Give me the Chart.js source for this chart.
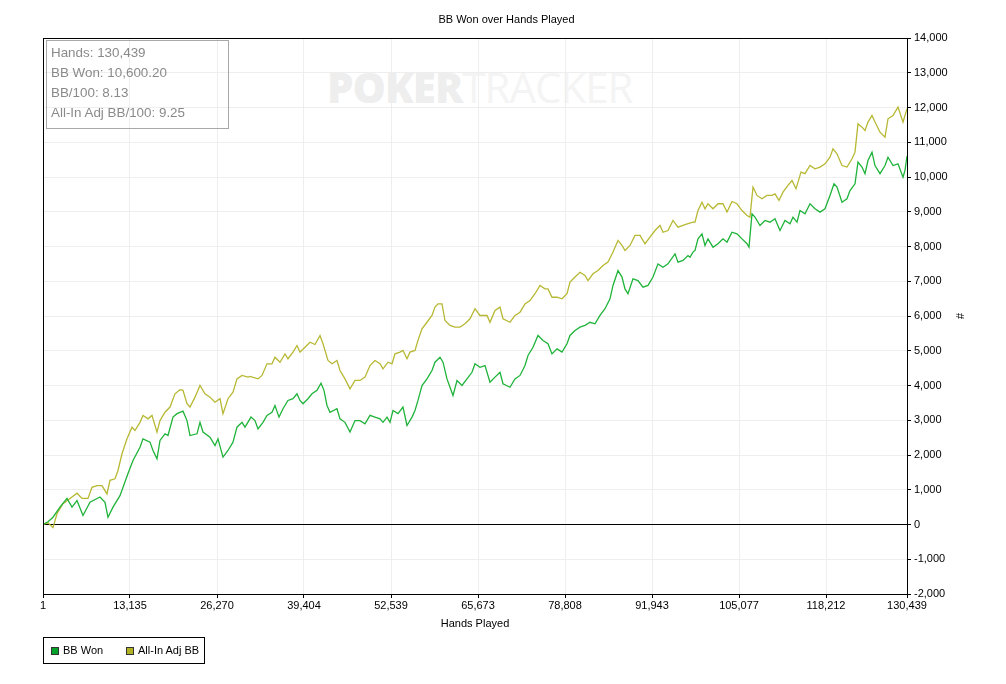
<!DOCTYPE html>
<html>
<head>
<meta charset="utf-8">
<title>BB Won over Hands Played</title>
<script src="https://cdn.jsdelivr.net/npm/chart.js@4.4.1/dist/chart.umd.min.js"></script>
<style>
  html, body { margin: 0; padding: 0; background: #fff; }
  #wrap { position: relative; width: 1006px; height: 684px; overflow: hidden; }
  #chart { position: absolute; left: 0; top: 0; }
  .watermark {
    position: absolute; left: 327px; top: 66px;
    font-family: "Open Sans", sans-serif; font-size: 42px; line-height: 42px;
    white-space: nowrap; letter-spacing: -1px;
  }
  .watermark b { color: #eeeeee; font-weight: 800; }
  .watermark span { color: #f4f4f4; font-weight: 400; }
  .stats {
    position: absolute; left: 46px; top: 40px; width: 177px; height: 84.6px;
    border: 1px solid #a8a8a8; padding: 2.4px 0 0 4px;
    font-family: "Liberation Sans", Arial, sans-serif; font-size: 13.4px; color: #8a8a8a;
    line-height: 19.7px; background: transparent;
  }
  .legend {
    position: absolute; left: 43px; top: 637px; width: 160px; height: 25px;
    border: 1px solid #000;
    font-family: "Liberation Sans", Arial, sans-serif; font-size: 11px; color: #000;
  }
  .legend .sw { position: absolute; top: 9px; width: 6px; height: 6px; border: 1px solid #333; }
  .legend .lb { position: absolute; top: 6px; line-height: 13px; }
</style>
</head>
<body>
<div id="wrap">
  <div class="watermark"><b>POKER</b><span>TRACKER</span></div>
  <canvas id="chart" width="1006" height="684"></canvas>
  <div class="stats">
    <div>Hands: 130,439</div>
    <div>BB Won: 10,600.20</div>
    <div>BB/100: 8.13</div>
    <div>All-In Adj BB/100: 9.25</div>
  </div>
  <div class="legend">
    <div class="sw" style="left:7px; background:#00a22a;"></div>
    <div class="lb" style="left:19px;">BB Won</div>
    <div class="sw" style="left:82px; background:#b1b223;"></div>
    <div class="lb" style="left:94px;">All-In Adj BB</div>
  </div>
</div>
<script>
const FONT = 'Liberation Sans, Arial, sans-serif';

const xTickValues = [1, 13135, 26270, 39404, 52539, 65673, 78808, 91943, 105077, 118212, 130439];

const bbWonHands = [
    1, 755, 1510, 2566, 3623, 4378, 5133, 6039, 7096, 8605, 9360, 9813, 10568, 11625, 12833, 13588,
    14645, 15098, 16154, 16607, 17211, 17664, 18418, 18871, 19626, 20230, 21136, 21740, 22193, 23249,
    23702, 24155, 25212, 25967, 26420, 27175, 27929, 28684, 29288, 30043, 30496, 31402, 32006, 32458,
    33213, 33817, 34572, 35025, 35629, 36233, 36988, 37743, 38346, 38799, 39252, 40007, 40611, 41366,
    41970, 42423, 42876, 43328, 44385, 44838, 45593, 46348, 47103, 47857, 48612, 49367, 50122, 50877,
    51330, 51934, 52387, 52840, 53594, 54349, 54953, 55708, 56161, 56614, 57218, 57972, 58727, 59180,
    59935, 60388, 60992, 61445, 61898, 62502, 63256, 64011, 64766, 65219, 65974, 66729, 67484, 68238,
    68993, 69446, 70503, 71258, 72013, 72768, 73220, 73975, 74730, 75485, 76240, 76844, 77599, 78353,
    79108, 79561, 80316, 81071, 81826, 82580, 83335, 84090, 84845, 85600, 86053, 86808, 87412, 87865,
    88317, 89072, 89827, 90582, 91337, 92092, 92847, 93601, 94356, 95413, 95866, 96621, 97376, 97678,
    98131, 98433, 98886, 99489, 99942, 100395, 101150, 101905, 102660, 103263, 104018, 104773, 105528,
    106283, 106585, 107038, 107491, 108245, 109000, 109755, 110510, 111265, 112020, 112775, 113228,
    113831, 114284, 115039, 115794, 116549, 117304, 118059, 118813, 119417, 119870, 120625, 121380,
    121833, 122588, 123041, 123645, 124099, 124551, 125155, 125608, 126363, 127118, 127571, 128326,
    129081, 129836, 130138, 130439
];
const bbWonValues = [
    0, 80, 210, 500, 750, 500, 690, 260, 640, 790, 640, 210, 500, 830, 1470, 1840,
    2225, 2465, 2370, 2130, 1890, 2420, 2610, 2560, 3090, 3190, 3260, 2990, 2560, 2610,
    2940, 2660, 2510, 2270, 2465, 1940, 2130, 2370, 2800, 2940, 2800, 3090, 2990, 2750,
    2940, 3140, 3230, 3425, 3090, 3330, 3570, 3620, 3760, 3570, 3475, 3620, 3760, 3860,
    4065, 3860, 3425, 3230, 3330, 3040, 2940, 2660, 2990, 2990, 2900, 3140, 3090, 3040,
    2940, 3090, 2940, 3280, 3190, 3380, 2850, 3090, 3280, 3570, 4000, 4190, 4430, 4670,
    4815, 4670, 4190, 3950, 3710, 4145, 4000, 4190, 4380, 4625, 4525, 4575, 4095, 4240,
    4380, 4050, 3950, 4190, 4290, 4575, 4865, 5100, 5440, 5295, 5200, 4910, 5055, 4960,
    5200, 5440, 5585, 5680, 5730, 5820, 5775, 6015, 6210, 6495, 6880, 7310, 7120, 6780,
    6640, 7070, 7020, 6830, 6880, 7120, 7500, 7405, 7500, 7790, 7550, 7600, 7740, 7690,
    7840, 7885, 8220, 8365, 8030, 8220, 7980, 8080, 8220, 8125, 8410, 8365, 8220,
    8080, 7980, 8940, 8845, 8605, 8750, 8700, 8800, 8460, 8750, 8655, 8845,
    8700, 9035, 8940, 9230, 9085, 8990, 9085, 9470, 9805, 9710, 9275, 9375,
    9610, 9805, 10430, 10285, 10095, 10475, 10715, 10330, 10095, 10330, 10570, 10330,
    10380, 9995, 10190, 10600
];

const adjHands = [
    1, 755, 1510, 2114, 3019, 4076, 5133, 5888, 6794, 7398, 8152, 8907, 9662, 10115, 10870, 11323,
    11927, 12682, 13436, 13890, 14645, 15098, 15852, 16456, 17211, 17664, 18418, 19173, 19928, 20683,
    21136, 21740, 22193, 22947, 23702, 24457, 25212, 25967, 26722, 27175, 27929, 28684, 29288, 30043,
    30949, 31251, 32458, 33062, 33817, 34572, 35025, 35780, 36535, 36988, 37743, 38346, 38799, 39554,
    40309, 41064, 41819, 42272, 43026, 43630, 44385, 44838, 45593, 46348, 47103, 47857, 48612, 49367,
    50122, 50877, 51330, 52085, 52689, 53141, 53896, 54349, 54953, 55406, 56161, 56614, 57218, 57972,
    58727, 59180, 59633, 60237, 60690, 61445, 62200, 62954, 63709, 64464, 65219, 65974, 67031, 67484,
    68238, 68993, 69446, 70503, 71258, 72013, 72768, 73522, 74277, 75032, 75787, 76240, 76844, 77599,
    78353, 79108, 79561, 80316, 81071, 81826, 82279, 83033, 83788, 84543, 85298, 86053, 86808, 87412,
    87865, 88619, 89374, 90129, 90884, 91639, 92394, 93148, 93601, 94356, 95111, 95866, 96621, 97376,
    98131, 98433, 98886, 99489, 99942, 100395, 101150, 101905, 102660, 103263, 104018, 104773, 105528,
    106283, 106736, 107189, 107793, 108547, 109302, 110057, 110510, 111114, 111718, 112473, 113077,
    113680, 114435, 115039, 115794, 116549, 117304, 118059, 118813, 119266, 119870, 120625, 121380,
    122135, 122588, 123041, 123645, 124099, 124551, 125155, 125608, 126363, 127118, 127571, 128326,
    129081, 129836, 130439
];
const adjValues = [
    0, 50, -90, 310, 600, 750, 900, 750, 750, 1070, 1120, 1120, 880, 1270, 1315, 1555,
    2035, 2465, 2800, 2705, 2940, 3140, 3040, 3140, 2660, 2990, 3230, 3380, 3760, 3880,
    3860, 3475, 3380, 3665, 4000, 3760, 3665, 3520, 3620, 3190, 3620, 3810, 4190, 4290,
    4240, 4260, 4190, 4290, 4625, 4625, 4815, 4670, 4910, 4770, 4960, 5150, 4960, 5100,
    5245, 5180, 5440, 5200, 4720, 4625, 4720, 4430, 4190, 3905, 4145, 4145, 4240, 4575,
    4720, 4625, 4480, 4670, 4625, 4910, 4960, 5010, 4770, 4960, 5010, 5300, 5630, 5820,
    6015, 6255, 6350, 6350, 5870, 5730, 5680, 5680, 5775, 5920, 6210, 6015, 6015, 5820,
    6160, 6255, 5920, 5820, 6015, 6110, 6350, 6445, 6640, 6880, 6780, 6780, 6540, 6540,
    6495, 6640, 6975, 7120, 7260, 7165, 7020, 7215, 7310, 7455, 7550, 7840, 8175, 8030,
    7885, 8030, 8320, 8320, 8080, 8270, 8460, 8605, 8410, 8460, 8750, 8555, 8605, 8655,
    8700, 8700, 9035, 9275, 9085, 9230, 9085, 9230, 9230, 8990, 9295, 9230, 9035,
    8890, 8845, 9710, 9470, 9375, 9470, 9470, 9515, 9325, 9565, 9760, 9900,
    9660, 10140, 10095, 10330, 10235, 10285, 10380, 10570, 10810, 10670, 10330, 10285,
    10525, 10715, 11530, 11435, 11340, 11580, 11770, 11580, 11290, 11145, 11675, 11770,
    12010, 11580, 11965
];

const toPoints = (xs, ys) => xs.map((x, i) => ({ x: x, y: ys[i] }));
const fmt = (v) => Number(v).toLocaleString('en-US');

// black frame round the plot area, on the same half pixels as the axis borders
const frame = {
    id: 'frame',
    afterDraw(chart) {
        const { ctx, chartArea } = chart;
        const l = Math.round(chartArea.left) + 0.5;
        const t = Math.round(chartArea.top) + 0.5;
        const r = Math.round(chartArea.right) + 0.5;
        const b = Math.round(chartArea.bottom) + 0.5;
        ctx.save();
        ctx.strokeStyle = '#000';
        ctx.lineWidth = 1;
        ctx.strokeRect(l, t, r - l, b - t);
        ctx.restore();
    }
};

Chart.defaults.font.family = FONT;
Chart.defaults.font.size = 11;
Chart.defaults.color = '#000';

new Chart(document.getElementById('chart'), {
    type: 'line',
    data: {
        datasets: [{
            label: 'BB Won',
            data: toPoints(bbWonHands, bbWonValues),
            borderColor: '#1fb33a',
            borderWidth: 1.3,
            pointRadius: 0,
            tension: 0
        }, {
            label: 'All-In Adj BB',
            data: toPoints(adjHands, adjValues),
            borderColor: '#b7b833',
            borderWidth: 1.3,
            pointRadius: 0,
            tension: 0
        }]
    },
    options: {
        responsive: false,
        animation: false,
        layout: { padding: { left: 43, right: 36, top: 0, bottom: 48 } },
        plugins: {
            legend: { display: false },
            tooltip: { enabled: false },
            title: {
                display: true,
                text: 'BB Won over Hands Played',
                color: '#000',
                font: { size: 11, weight: 'normal' },
                padding: { top: 13, bottom: 11.8 }
            }
        },
        scales: {
            x: {
                type: 'linear',
                min: xTickValues[0],
                max: xTickValues[xTickValues.length - 1],
                afterBuildTicks: (scale) => { scale.ticks = xTickValues.map(v => ({ value: v })); },
                afterFit: (scale) => { scale.height = 42; },
                ticks: { callback: fmt, autoSkip: false, maxRotation: 0, padding: 1, color: '#000' },
                grid: { color: '#eeeeee', tickColor: '#000', tickLength: 4 },
                border: { color: '#000' },
                title: { display: true, text: 'Hands Played', color: '#000', padding: { top: 3, bottom: 5.4 } }
            },
            y: {
                position: 'right',
                min: -2000,
                max: 14000,
                afterFit: (scale) => { scale.width = 63; },
                ticks: { stepSize: 1000, callback: fmt, padding: 3, color: '#000' },
                grid: {
                    color: (c) => (c.tick && c.tick.value === 0 ? '#000' : '#eeeeee'),
                    tickColor: '#000',
                    tickLength: 4
                },
                border: { color: '#000' },
                title: { display: true, text: '#', color: '#000', padding: { top: 4, bottom: 4 } }
            }
        }
    },
    plugins: [frame]
});
</script>
</body>
</html>
